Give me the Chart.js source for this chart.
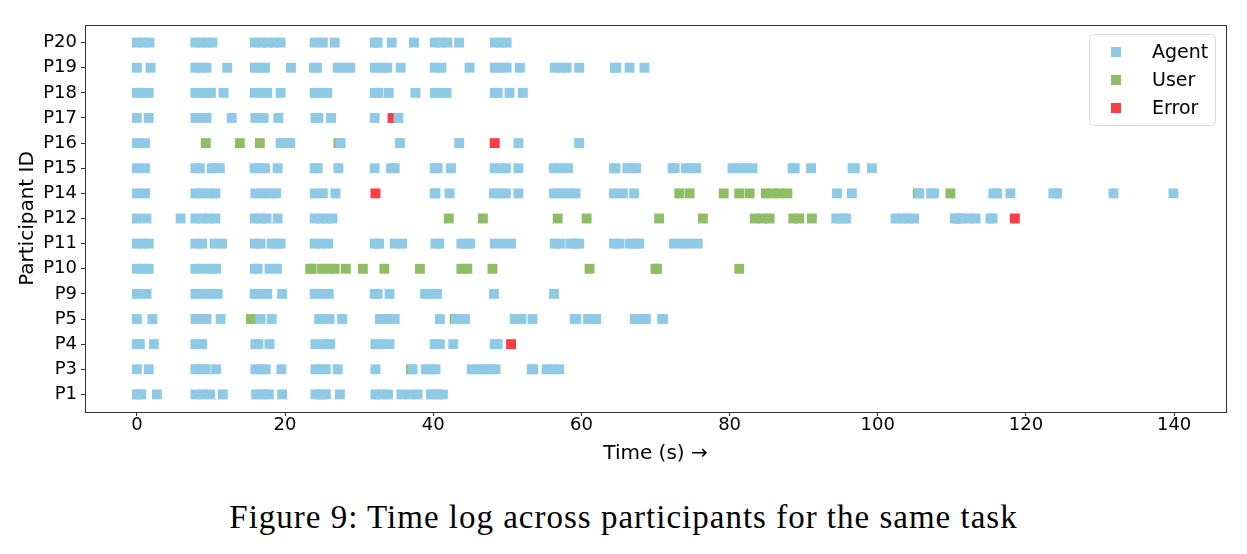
<!DOCTYPE html>
<html>
<head>
<meta charset="utf-8">
<script src="https://cdn.jsdelivr.net/npm/chart.js@4.4.0/dist/chart.umd.min.js"></script>
<style>
  body { margin: 0; background: #fff; }
  #wrap { position: relative; width: 1247px; height: 554px; }
  #caption {
    position: absolute; left: 0; top: 497px; width: 1247px;
    text-align: center; font-family: 'Liberation Serif', serif;
    font-size: 33px; letter-spacing: 1px; line-height: 40px; color: #000;
  }
</style>
</head>
<body>
<div id="wrap">
  <canvas id="timeChart" width="1247" height="470"></canvas>
  <div id="caption">Figure 9: Time log across participants for the same task</div>
</div>
<script>
const participants = ['P1', 'P3', 'P4', 'P5', 'P9', 'P10', 'P11', 'P12', 'P14', 'P15', 'P16', 'P17', 'P18', 'P19', 'P20'];
const xTicks = [0, 20, 40, 60, 80, 100, 120, 140];

// one list of times (s) per participant, same order as participants
const agentTimes = [
    [0, 0.6, 2.7, 7.9, 8.9, 9.9, 11.6, 16.1, 17.0, 17.8, 19.6, 24.1, 24.8, 25.5, 27.4, 32.2, 33.0, 33.9, 35.7, 36.8, 37.9, 39.7, 40.5, 41.3],
    [0, 1.6, 7.9, 8.6, 9.3, 10.7, 16.0, 16.7, 17.4, 19.5, 24.1, 24.8, 25.5, 27.1, 32.2, 37.2, 39.0, 39.7, 40.3, 45.2, 46.0, 46.8, 47.6, 48.4, 53.3, 53.5, 55.3, 56.1, 57.0],
    [0, 0.4, 2.3, 7.9, 8.8, 16.0, 16.4, 17.9, 24.1, 25.1, 26.1, 32.2, 33.1, 34.1, 40.2, 40.9, 42.7, 48.3, 48.7],
    [0, 2.1, 7.9, 8.7, 9.4, 11.3, 16.7, 18.2, 24.6, 25.3, 26.0, 27.7, 32.8, 33.8, 34.8, 40.9, 43.1, 43.7, 44.3, 51.0, 51.9, 53.4, 59.1, 59.3, 60.9, 61.5, 62.0, 67.2, 68.0, 68.7, 70.9, 71.0],
    [0, 1.3, 7.9, 8.9, 9.9, 10.9, 15.9, 16.8, 17.6, 19.6, 24.0, 25.0, 25.9, 32.1, 32.5, 34.1, 38.9, 39.7, 40.5, 48.2, 56.3],
    [0, 0.8, 1.6, 7.9, 8.8, 9.8, 10.7, 15.9, 16.3, 17.9, 18.9],
    [0, 0.8, 1.6, 7.9, 8.8, 10.5, 11.5, 15.9, 16.7, 18.2, 18.8, 19.4, 24.0, 24.9, 25.8, 32.1, 32.7, 34.8, 35.8, 40.3, 40.8, 43.8, 44.4, 45.0, 48.3, 49.4, 50.5, 56.4, 57.1, 58.5, 59.1, 59.7, 64.4, 65.1, 66.5, 67.2, 67.8, 72.5, 73.6, 74.6, 75.7],
    [0, 1.3, 5.9, 7.9, 8.8, 9.7, 10.6, 15.9, 16.7, 17.5, 19.0, 24.0, 24.8, 25.6, 26.4, 94.4, 95.1, 95.7, 102.4, 103.3, 104.1, 104.9, 110.4, 111.3, 112.3, 113.2, 115.2, 115.5],
    [0, 1.1, 7.9, 8.8, 9.7, 10.6, 16.0, 17.0, 17.9, 18.8, 24.0, 25.1, 26.8, 40.2, 40.3, 42.2, 48.2, 49.0, 49.8, 51.5, 56.3, 57.3, 58.2, 59.2, 64.4, 65.6, 67.1, 94.5, 96.5, 105.6, 107.2, 107.6, 115.6, 116.1, 117.9, 123.7, 124.2, 131.8, 139.9],
    [0, 1.1, 7.9, 8.5, 10.1, 10.6, 11.2, 15.9, 16.6, 17.3, 19.0, 24.0, 24.4, 27.2, 32.1, 34.3, 34.8, 40.2, 40.6, 42.4, 48.3, 49.1, 49.8, 51.5, 56.3, 57.2, 58.2, 64.4, 64.6, 66.2, 66.8, 67.4, 72.3, 72.6, 74.1, 74.8, 75.5, 80.4, 81.4, 82.3, 83.1, 88.5, 88.8, 91.0, 96.6, 96.9, 99.2],
    [0, 1.1, 19.4, 20.1, 20.7, 27.5, 35.5, 43.5, 51.5, 59.7],
    [0, 1.6, 7.9, 8.7, 9.4, 12.8, 16.0, 17.1, 19.1, 24.1, 24.5, 26.2, 32.1, 35.3],
    [0, 0.4, 1.6, 7.9, 8.7, 9.4, 10.0, 11.7, 15.9, 16.8, 17.6, 19.4, 24.0, 24.8, 25.7, 32.1, 32.6, 34.0, 37.6, 40.2, 41.0, 41.8, 48.3, 48.7, 50.3, 52.1],
    [0, 1.85, 7.9, 8.7, 9.4, 12.2, 15.9, 16.6, 17.3, 20.8, 23.9, 24.3, 27.1, 28.0, 28.8, 32.1, 33.0, 33.8, 35.6, 40.2, 41.1, 44.9, 48.3, 48.7, 49.9, 51.7, 56.4, 57.2, 58.0, 59.7, 64.5, 64.7, 66.5, 68.5],
    [0, 0.9, 1.7, 7.9, 8.7, 9.5, 10.2, 15.9, 16.8, 17.6, 18.5, 19.4, 24.0, 25.1, 26.7, 32.1, 32.5, 34.4, 37.4, 40.2, 41.0, 41.9, 43.5, 48.3, 49.1, 49.9]
];

const userTimes = [
    [],
    [37.0],
    [],
    [15.4, 42.9],
    [],
    [23.4, 23.6, 25.0, 25.8, 26.7, 28.2, 30.5, 33.4, 38.2, 43.8, 44.6, 48.0, 61.1, 70.0, 70.2, 81.3],
    [],
    [42.1, 46.7, 56.8, 60.7, 70.5, 76.4, 83.4, 84.4, 85.4, 88.6, 89.4, 91.1, 110.8],
    [73.2, 74.6, 79.2, 81.3, 82.7, 84.9, 85.8, 86.8, 87.8, 105.4, 109.8],
    [],
    [9.3, 13.9, 16.6, 27.2],
    [],
    [],
    [],
    []
];

const errorTimes = [
    [], [], [50.5], [], [], [], [], [118.5], [32.2], [], [48.3], [34.5], [], [], []
];

const agentColor = '#8ecae6';
const userColor = '#8fbd66';
const errorColor = '#fc3d43';

function toPoints(times) {
    return times.flatMap((list, i) => list.map(t => ({ x: t, y: i })));
}

const frameAndLegend = {
    id: 'frameAndLegend',
    afterDraw(chart) {
        const ctx = chart.ctx;
        const a = chart.chartArea;
        ctx.save();
        ctx.strokeStyle = '#333';
        ctx.lineWidth = 1;
        ctx.strokeRect(Math.round(a.left) + 0.5, Math.round(a.top) + 0.5,
            Math.round(a.right - a.left), Math.round(a.bottom - a.top));

        // legend box in upper right
        const bx = 1089.5, by = 34.5, bw = 126, bh = 91;
        ctx.fillStyle = 'rgba(255,255,255,0.8)';
        ctx.strokeStyle = '#d8d8d8';
        ctx.beginPath();
        ctx.roundRect(bx, by, bw, bh, 4);
        ctx.fill();
        ctx.stroke();

        const items = chart.data.datasets;
        ctx.font = '19px "DejaVu Sans"';
        ctx.textBaseline = 'middle';
        items.forEach((ds, i) => {
            const cy = 52 + i * 28;
            ctx.fillStyle = ds.backgroundColor;
            ctx.fillRect(1111, cy - 5, 10, 10);
            ctx.fillStyle = '#000';
            ctx.fillText(ds.label, 1152, cy + 1);
        });
        ctx.restore();
    }
};

new Chart(document.getElementById('timeChart'), {
    type: 'scatter',
    data: {
        datasets: [
            { label: 'Agent', data: toPoints(agentTimes), backgroundColor: agentColor },
            { label: 'User', data: toPoints(userTimes), backgroundColor: userColor },
            { label: 'Error', data: toPoints(errorTimes), backgroundColor: errorColor }
        ]
    },
    options: {
        responsive: false,
        animation: false,
        devicePixelRatio: 1,
        layout: { padding: { top: 25, right: 21, left: 0, bottom: 0 } },
        elements: {
            point: { pointStyle: 'rect', radius: 7, borderWidth: 0, hoverRadius: 7 }
        },
        plugins: {
            legend: { display: false },
            tooltip: { enabled: false }
        },
        scales: {
            x: {
                type: 'linear',
                min: -7,
                max: 147,
                afterBuildTicks: scale => { scale.ticks = xTicks.map(v => ({ value: v })); },
                afterFit: scale => { scale.height = 58; },
                grid: { drawOnChartArea: false, tickLength: 4, color: '#333' },
                border: { display: false },
                ticks: { font: { family: 'DejaVu Sans', size: 18 }, color: '#000', padding: -1, maxRotation: 0 },
                title: {
                    display: true,
                    text: 'Time (s) →',
                    font: { family: 'DejaVu Sans', size: 20 },
                    color: '#000',
                    padding: { top: 0, bottom: 4 }
                }
            },
            y: {
                type: 'linear',
                min: -0.7,
                max: participants.length - 0.3,
                afterBuildTicks: scale => { scale.ticks = participants.map((p, i) => ({ value: i })); },
                afterFit: scale => { scale.width = 85; },
                grid: { drawOnChartArea: false, tickLength: 4, color: '#333' },
                border: { display: false },
                ticks: {
                    font: { family: 'DejaVu Sans', size: 18 },
                    color: '#000',
                    padding: 4,
                    callback: v => participants[v]
                },
                title: {
                    display: true,
                    text: 'Participant ID',
                    font: { family: 'DejaVu Sans', size: 20 },
                    color: '#000',
                    padding: { top: 16, bottom: 0 }
                }
            }
        }
    },
    plugins: [frameAndLegend]
});
</script>
</body>
</html>
